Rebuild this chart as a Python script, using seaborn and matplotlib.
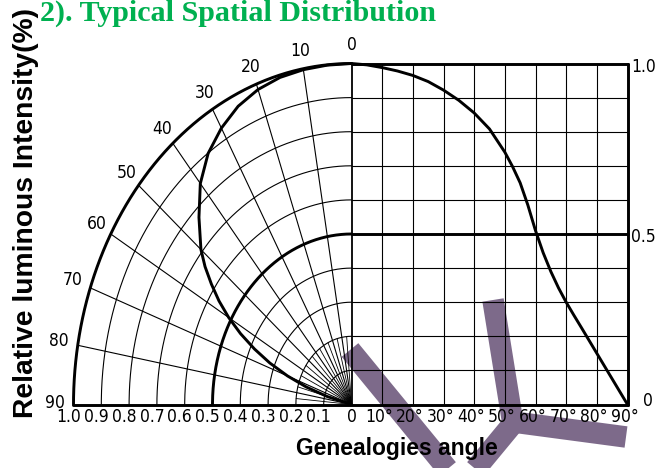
import numpy as np
import pandas as pd
import matplotlib
matplotlib.use("Agg")
import matplotlib.pyplot as plt
from matplotlib import font_manager
from matplotlib.font_manager import FontProperties
import seaborn as sns

# ---------------- data ----------------
cart_angle_deg = [0, 5, 10, 15, 20, 25, 30, 35, 40, 45, 50, 52.5, 55, 57.5, 60, 62.5, 65,
                  67.5, 70, 72.5, 75, 80, 85, 90]
cart_intensity = [1.0, 0.996, 0.988, 0.978, 0.965, 0.947, 0.922, 0.892, 0.855, 0.808, 0.74,
                  0.698, 0.65, 0.585, 0.51, 0.445, 0.39, 0.342, 0.30, 0.262, 0.225, 0.15,
                  0.075, 0.0]
polar_angle_deg = [0, 5, 10, 15, 20, 25, 30, 35, 40, 45, 50, 52.5, 55, 57.5, 60, 62.5, 65,
                   67.5, 70, 72.5, 75, 78]
polar_radius = [1.0, 0.999, 0.997, 0.993, 0.983, 0.965, 0.936, 0.899, 0.846, 0.776, 0.707,
                0.664, 0.615, 0.565, 0.51, 0.45, 0.385, 0.318, 0.245, 0.17, 0.09, 0.0]
polar_angle_labels = [0, 10, 20, 30, 40, 50, 60, 70, 80, 90]
radius_labels = ["1.0", "0.9", "0.8", "0.7", "0.6", "0.5", "0.4", "0.3", "0.2", "0.1", "0"]
radius_values = [1.0, 0.9, 0.8, 0.7, 0.6, 0.5, 0.4, 0.3, 0.2, 0.1, 0.0]
right_angle_ticks = [0, 10, 20, 30, 40, 50, 60, 70, 80, 90]
right_intensity_ticks = [1.0, 0.5, 0.0]
right_intensity_labels = ["1.0", "0.5", "0"]

title = "2). Typical Spatial Distribution"
ylabel = "Relative luminous Intensity(%)"
xlabel = "Genealogies angle"

# ---------------- style ----------------
sns.set_theme(style="white")
plt.rcParams["font.family"] = ["Liberation Sans", "DejaVu Sans"]

tick_fs = 12.5
cond = [f for f in font_manager.fontManager.ttflist
        if f.name == "DejaVu Sans" and str(f.stretch) in ("condensed", "semi-condensed")
        and f.weight in (400, "normal", "regular", "book") and f.style == "normal"]
names = {f.name for f in font_manager.fontManager.ttflist}
if cond:
    tick_fp = FontProperties(fname=cond[0].fname, size=tick_fs)
elif "Liberation Sans Narrow" in names:
    tick_fp = FontProperties(family="Liberation Sans Narrow", size=tick_fs)
else:
    tick_fp = FontProperties(family="DejaVu Sans", size=11)

W, H = 669, 468
fig = plt.figure(figsize=(W / 100, H / 100), dpi=100)
fig.patch.set_facecolor("white")
ax = fig.add_axes([0, 0, 1, 1])

# geometry (pixel layout of the reference)
OX, OY = 351.5, 404.5      # origin in pixels
RX, RY = 278.0, 341.0      # pixels per unit radius (horizontal / vertical)
DEG_W = 276.0 / 90.0 / RX  # data units per degree on the right panel


def px_x(px):
    return (px - OX) / RX


def px_y(py):
    return (OY - py) / RY


K = "black"
THIN, MED, THICK = 0.8, 1.3, 2.1

# ---------------- watermark ----------------
wm = "#7d6a8a"
for (x0, y0, x1, y1) in [(350, 350, 450, 472), (493, 300, 513, 424), (506, 421, 626, 437),
                         (516, 420, 468, 478)]:
    ax.plot([px_x(x0), px_x(x1)], [px_y(y0), px_y(y1)], color=wm, lw=15.5,
            solid_capstyle="butt", zorder=0.5)

# ---------------- polar grid (left) ----------------
th = np.radians(np.linspace(0, 90, 300))
for r in radius_values[:-1]:
    ax.plot(-r * np.sin(th), r * np.cos(th), color=K,
            lw=THICK if r in (1.0, 0.5) else THIN, zorder=2)
for a in polar_angle_labels[1:-1]:
    t = np.radians(a)
    ax.plot([0, -np.sin(t)], [0, np.cos(t)], color=K, lw=THIN, zorder=2)
for a in range(5, 90, 10):
    t = np.radians(a)
    ax.plot([0, -0.2 * np.sin(t)], [0, 0.2 * np.cos(t)], color=K, lw=0.6, zorder=2)

# ---------------- cartesian grid (right) ----------------
for d in right_angle_ticks[1:-1]:
    ax.plot([d * DEG_W, d * DEG_W], [0, 1], color=K, lw=THIN, zorder=2)
for v in np.arange(1, 10) / 10:
    if abs(v - 0.5) > 1e-6:
        ax.plot([0, 90 * DEG_W], [v, v], color=K, lw=THIN, zorder=2)
for v in right_intensity_ticks:
    x0 = -1.0 if v == 0 else 0
    ax.plot([x0, 90 * DEG_W], [v, v], color=K, lw=THICK, zorder=3)
ax.plot([90 * DEG_W, 90 * DEG_W], [0, 1], color=K, lw=THICK, zorder=3)
ax.plot([0, 0], [0, 1], color=K, lw=MED, zorder=3)

# ---------------- curves ----------------
cart = pd.DataFrame({"x": np.array(cart_angle_deg) * DEG_W, "y": cart_intensity})
sns.lineplot(data=cart, x="x", y="y", ax=ax, color=K, lw=THICK, sort=False,
             estimator=None, zorder=4)
pa = np.radians(polar_angle_deg)
pr = np.array(polar_radius)
pol = pd.DataFrame({"x": -pr * np.sin(pa), "y": pr * np.cos(pa)})
sns.lineplot(data=pol, x="x", y="y", ax=ax, color=K, lw=THICK, sort=False,
             estimator=None, zorder=4)
ax.set_xlim(-OX / RX, (W - OX) / RX)
ax.set_ylim((OY - H) / RY, OY / RY)
ax.set_axis_off()

# ---------------- labels ----------------
for a in polar_angle_labels:
    t = np.radians(a)
    dx = -np.sin(t) * 16 - (3 if a > 60 else 0)
    dy = np.cos(t) * 16 + 2
    ax.annotate(str(a), (-np.sin(t), np.cos(t)), xytext=(dx, dy), textcoords="offset pixels",
                ha="center", va="center", fontproperties=tick_fp, color=K)
for lab, v in zip(radius_labels, radius_values):
    ax.annotate(lab, (-v, 0), xytext=(-5 if v > 0 else 0, -4), textcoords="offset pixels",
                ha="center", va="top", fontproperties=tick_fp, color=K)
for d in right_angle_ticks[1:]:
    ax.annotate(f"{d}°", (d * DEG_W, 0), xytext=(-3, -4), textcoords="offset pixels",
                ha="center", va="top", fontproperties=tick_fp, color=K)
for v, lab in zip(right_intensity_ticks, right_intensity_labels):
    ax.annotate(lab, (90 * DEG_W, v), xytext=(4 if v > 0 else 15, -3 if v > 0 else 4),
                textcoords="offset pixels", ha="left", va="center",
                fontproperties=tick_fp, color=K)

fig.text(40 / W, 1 - 20.5 / H, title, ha="left", va="baseline", fontsize=21.6,
         fontweight="bold", family=["Liberation Serif", "DejaVu Serif"], color="#00B050")
fig.text(26 / W, 1 - 213 / H, ylabel, rotation=90, ha="center", va="center", fontsize=20.3,
         fontweight="bold", color=K)
fig.text(397 / W, 1 - 449 / H, xlabel, ha="center", va="center", fontsize=16.5,
         fontweight="bold", color=K)

fig.savefig("out.png", dpi=100, facecolor="white")
